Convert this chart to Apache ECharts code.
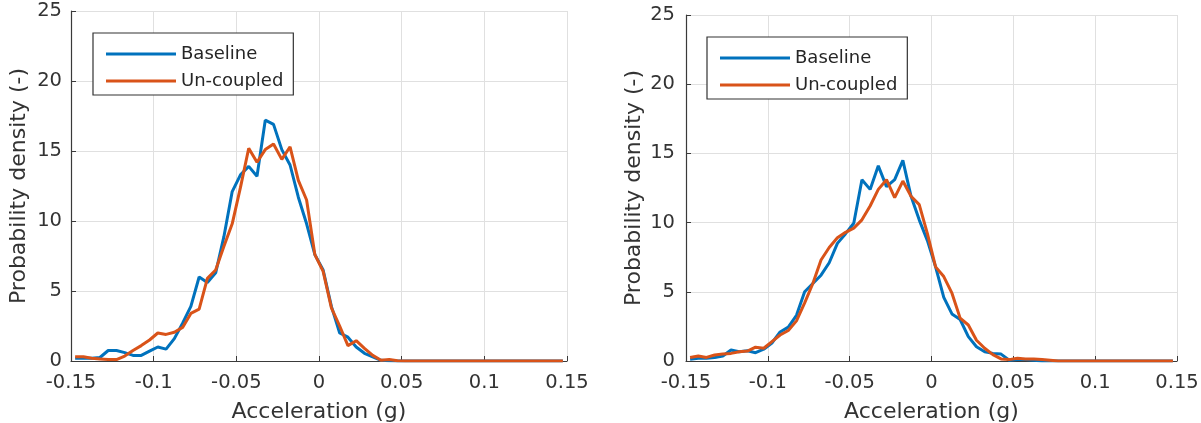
<!DOCTYPE html>
<html>
<head>
<meta charset="utf-8">
<script src="https://cdn.jsdelivr.net/npm/echarts@6/dist/echarts.min.js"></script>
<style>
html,body{margin:0;padding:0;background:#fff;}
#chart{width:1201px;height:423px;}
</style>
</head>
<body>
<div id="chart"></div>
<script>
const centers = [
-0.1475,-0.1425,-0.1375,-0.1325,-0.1275,-0.1225,-0.1175,-0.1125,-0.1075,-0.1025,
-0.0975,-0.0925,-0.0875,-0.0825,-0.0775,-0.0725,-0.0675,-0.0625,-0.0575,-0.0525,
-0.0475,-0.0425,-0.0375,-0.0325,-0.0275,-0.0225,-0.0175,-0.0125,-0.0075,-0.0025,
0.0025,0.0075,0.0125,0.0175,0.0225,0.0275,0.0325,0.0375,0.0425,0.0475,
0.0525,0.0575,0.0625,0.0675,0.0725,0.0775,0.0825,0.0875,0.0925,0.0975,
0.1025,0.1075,0.1125,0.1175,0.1225,0.1275,0.1325,0.1375,0.1425,0.1475
];
const leftBaseline = [
0.2,0.2,0.2,0.25,0.75,0.75,0.6,0.4,0.4,0.7,
1.0,0.85,1.6,2.7,3.9,6.0,5.6,6.3,8.9,12.1,
13.3,13.9,13.2,17.2,16.9,15.1,14.0,11.7,9.8,7.6,
6.5,3.9,2.0,1.7,1.0,0.55,0.3,0.05,0.02,0,
0,0,0,0,0,0,0,0,0,0,
0,0,0,0,0,0,0,0,0,0
];
const leftUncoupled = [
0.3,0.3,0.2,0.15,0.1,0.1,0.35,0.75,1.1,1.5,
2.0,1.9,2.05,2.4,3.4,3.7,5.9,6.5,8.2,9.8,
12.4,15.2,14.2,15.1,15.5,14.4,15.3,12.9,11.5,7.6,
6.4,3.8,2.5,1.1,1.45,0.9,0.4,0.05,0.1,0.02,
0,0,0,0,0,0,0,0,0,0,
0,0,0,0,0,0,0,0,0,0
];
const rightBaseline = [
0.12,0.19,0.19,0.26,0.36,0.79,0.67,0.74,0.6,0.85,
1.3,2.1,2.45,3.3,5.0,5.6,6.2,7.1,8.5,9.2,
9.95,13.1,12.4,14.1,12.6,13.1,14.5,11.9,10.2,8.7,
6.8,4.6,3.4,3.0,1.76,1.03,0.67,0.55,0.5,0.05,
0.1,0.1,0.05,0,0,0,0,0,0,0,
0,0,0,0,0,0,0,0,0,0
];
const rightUncoupled = [
0.26,0.36,0.26,0.43,0.5,0.55,0.67,0.72,1.0,0.92,
1.4,1.88,2.2,2.9,4.2,5.6,7.3,8.2,8.9,9.3,
9.6,10.2,11.2,12.4,13.1,11.8,13.0,11.9,11.3,9.2,
6.8,6.1,4.9,3.1,2.6,1.5,0.92,0.46,0.15,0.1,
0.2,0.15,0.15,0.1,0.05,0,0,0,0,0,
0,0,0,0,0,0,0,0,0,0
];
const seriesNames = ['Baseline', 'Un-coupled'];
const xLabel = 'Acceleration (g)';
const yLabel = 'Probability density (-)';

const FONT = 'DejaVu Sans';
const BLUE = '#0072BD';
const ORANGE = '#D95319';
const AX = '#3a3a3a';
const GRIDC = '#e0e0e0';

function pts(arr){ return centers.map((c,i)=>[c, arr[i]]); }

function xAx(gi, gap){
  return {
    type:'value', gridIndex:gi, min:-0.15, max:0.15, interval:0.05,
    name:xLabel, nameLocation:'middle', nameGap:gap,
    nameTextStyle:{fontFamily:FONT, fontSize:22, color:'#333'},
    axisLine:{show:true, onZero:false, lineStyle:{color:AX, width:1.2}},
    axisTick:{show:true, inside:true, length:5, lineStyle:{color:AX}},
    axisLabel:{fontFamily:FONT, fontSize:19.5, color:'#333', margin:12},
    splitLine:{show:true, lineStyle:{color:GRIDC, width:1}}
  };
}
function yAx(gi, gap, lm){
  return {
    type:'value', gridIndex:gi, min:0, max:25, interval:5,
    name:yLabel, nameLocation:'middle', nameGap:gap, nameRotate:90,
    nameTextStyle:{fontFamily:FONT, fontSize:22, color:'#333'},
    axisLine:{show:true, onZero:false, lineStyle:{color:AX, width:1.2}},
    axisTick:{show:true, inside:true, length:5, lineStyle:{color:AX}},
    axisLabel:{fontFamily:FONT, fontSize:19.5, color:'#333', margin:lm},
    splitLine:{show:true, lineStyle:{color:GRIDC, width:1}}
  };
}
function legend(left, top){
  return {
    left:left, top:top, orient:'vertical', data:seriesNames,
    backgroundColor:'#fff', borderColor:'#333', borderWidth:1.2,
    padding:[12,10,5,13], itemGap:9, itemWidth:70, itemHeight:14,
    icon:'path://M0,5.5 L70,5.5 L70,8.5 L0,8.5 Z',
    textStyle:{fontFamily:FONT, fontSize:18, color:'#262626'},
    selectedMode:false
  };
}
function line(name, color, xi, arr){
  return {
    type:'line', name:name, xAxisIndex:xi, yAxisIndex:xi,
    data:pts(arr), showSymbol:false, symbol:'none',
    lineStyle:{color:color, width:3}, itemStyle:{color:color},
    clip:true, animation:false
  };
}

const chart = echarts.init(document.getElementById('chart'), null, {renderer:'canvas'});
chart.setOption({
  animation:false,
  backgroundColor:'#fff',
  grid:[
    {left:71, top:11, width:496, height:350, containLabel:false, outerBoundsMode:'none'},
    {left:686, top:15, width:491, height:346, containLabel:false, outerBoundsMode:'none'}
  ],
  xAxis:[xAx(0, 40), xAx(1, 40)],
  yAxis:[yAx(0, 41, 9), yAx(1, 41, 11)],
  legend:[legend(93, 33), legend(707, 37)],
  series:[
    line(seriesNames[0], BLUE, 0, leftBaseline),
    line(seriesNames[1], ORANGE, 0, leftUncoupled),
    line(seriesNames[0], BLUE, 1, rightBaseline),
    line(seriesNames[1], ORANGE, 1, rightUncoupled)
  ]
});
</script>
</body>
</html>
